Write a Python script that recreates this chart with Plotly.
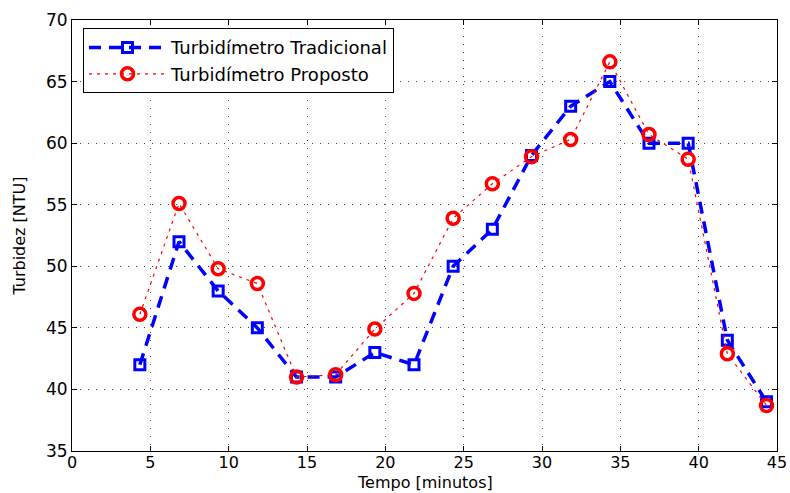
import plotly.graph_objects as go

# Sampling instants (minutes)
tempo = [4.33, 6.83, 9.33, 11.83, 14.33, 16.83, 19.33, 21.83, 24.33,
         26.83, 29.33, 31.83, 34.33, 36.83, 39.33, 41.83, 44.33]

# Turbidity readings (NTU)
tradicional = [42, 52, 48, 45, 41, 41, 43, 42, 50, 53, 59, 63, 65, 60, 60, 44, 39]
proposto = [46.1, 55.1, 49.8, 48.6, 41.0, 41.2, 44.9, 47.8, 53.9,
            56.7, 58.9, 60.3, 66.6, 60.7, 58.7, 42.9, 38.7]

x_ticks = [0, 5, 10, 15, 20, 25, 30, 35, 40, 45]
y_ticks = [35, 40, 45, 50, 55, 60, 65, 70]

font_family = "DejaVu Sans, Liberation Sans, Arial, sans-serif"

fig = go.Figure()
fig.add_trace(go.Scatter(
    x=tempo, y=tradicional, mode="lines+markers",
    name="Turbidímetro Tradicional",
    line=dict(color="#0000ff", width=3.5, dash="12px,8px"),
    marker=dict(symbol="square-open", size=10, color="#0000ff",
                line=dict(width=3, color="#0000ff")),
))
fig.add_trace(go.Scatter(
    x=tempo, y=proposto, mode="lines+markers",
    name="Turbidímetro Proposto",
    line=dict(color="#ff0000", width=1.2, dash="3px,5px"),
    marker=dict(symbol="circle-open", size=12, color="#ff0000",
                line=dict(width=3.5, color="#ff0000")),
))

axis_common = dict(
    showline=True, linecolor="black", linewidth=1, mirror="ticks",
    ticks="inside", ticklen=5, tickcolor="black",
    showgrid=True, gridcolor="#444444", griddash="1px,7px", gridwidth=1,
    zeroline=False, automargin=False,
)

fig.update_xaxes(range=[0, 45], tickvals=x_ticks, ticklabelstandoff=-3,
                 tickfont=dict(family=font_family, size=16, color="black"),
                 **axis_common)
fig.update_yaxes(range=[35, 70], tickvals=y_ticks,
                 tickfont=dict(family=font_family, size=17, color="black"),
                 title=dict(text="Turbidez [NTU]", standoff=16,
                            font=dict(family=font_family, size=16, color="black")),
                 **axis_common)

# x-axis title, sitting just under the tick labels
fig.add_annotation(
    text="Tempo [minutos]", xref="paper", yref="paper",
    x=0.5, y=-0.074, xanchor="center", yanchor="middle", showarrow=False,
    font=dict(family=font_family, size=16, color="black"),
)

fig.update_layout(
    width=790, height=493,
    margin=dict(l=72, r=13, t=20, b=42),
    paper_bgcolor="white", plot_bgcolor="white",
    showlegend=True,
    legend=dict(x=0.0156, y=0.981, xanchor="left", yanchor="top",
                bgcolor="white", bordercolor="black", borderwidth=1,
                font=dict(family=font_family, size=18, color="black"),
                tracegroupgap=0, itemwidth=77),
)

fig.write_html("out.html")
